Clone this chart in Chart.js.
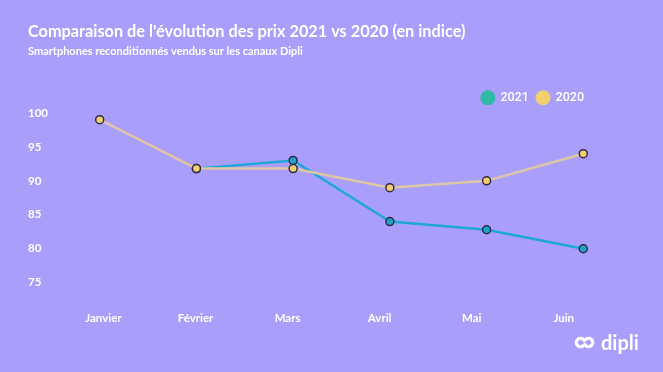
<!DOCTYPE html>
<html>
<head>
<meta charset="utf-8">
<script src="https://cdn.jsdelivr.net/npm/chart.js@4/dist/chart.umd.min.js"></script>
<style>
  html, body { margin: 0; padding: 0; background: #A99FFB; }
  #wrap { width: 663px; height: 372px; position: relative; }
</style>
</head>
<body>
<div id="wrap"><canvas id="c"></canvas></div>
<script>
// ---- data ----
const months = ["Janvier", "Février", "Mars", "Avril", "Mai", "Juin"];
const values2021 = [null, 91.8, 93, 84, 82.8, 80];
const values2020 = [99, 91.8, 91.8, 89, 90, 94];
const yTicks = [75, 80, 85, 90, 95, 100];
const seriesNames = ["2021", "2020"];

// label tick positions (in month-index units) where each month name sits
const labelPos = months.map((m, i) => 0.039 + 0.9518 * i);

const BG = "#A99FFB";
const C21 = "#1EA7D6", C21pt = "#1FA2C8", C21leg = "#2DBBA6";
const C20 = "#DCC6A6", C20pt = "#F3D06B", C20leg = "#F3CF6C";
const EDGE = "#2C2A48";

Chart.defaults.font.family = "Lato, 'Open Sans', sans-serif";
Chart.defaults.color = "#FFFFFF";

const bgPlugin = {
  id: "bg",
  beforeDraw(chart) {
    const ctx = chart.ctx;
    ctx.save();
    ctx.fillStyle = BG;
    ctx.fillRect(0, 0, chart.width, chart.height);
    ctx.restore();
  }
};

const logoPlugin = {
  id: "logo",
  afterDraw(chart) {
    const ctx = chart.ctx;
    ctx.save();
    ctx.strokeStyle = "#FFFFFF";
    ctx.lineWidth = 3.2;
    ctx.lineCap = "round";
    ctx.beginPath();
    ctx.arc(580.5, 342.5, 4.2, 0.3 * Math.PI, 1.85 * Math.PI);
    ctx.stroke();
    ctx.beginPath();
    ctx.arc(588.5, 342.5, 4.2, 1.3 * Math.PI, 0.85 * Math.PI);
    ctx.stroke();
    ctx.fillStyle = "#FFFFFF";
    ctx.font = "bold 20px Lato, sans-serif";
    ctx.textBaseline = "alphabetic";
    ctx.textAlign = "left";
    ctx.fillText("dipli", 601, 349.5);
    ctx.restore();
  }
};

const toXY = arr => arr.map((v, i) => ({ x: i, y: v }));

new Chart(document.getElementById("c"), {
  type: "line",
  data: {
    datasets: [
      {
        label: seriesNames[0],
        data: toXY(values2021),
        borderColor: C21,
        backgroundColor: C21pt,
        pointBackgroundColor: C21pt,
        pointBorderColor: EDGE,
        pointBorderWidth: 1.5,
        pointRadius: 4,
        borderWidth: 2.5,
        tension: 0,
        order: 1,
        legendColor: C21leg
      },
      {
        label: seriesNames[1],
        data: toXY(values2020),
        borderColor: C20,
        backgroundColor: C20pt,
        pointBackgroundColor: C20pt,
        pointBorderColor: EDGE,
        pointBorderWidth: 1.5,
        pointRadius: 4,
        borderWidth: 2.5,
        tension: 0,
        order: 0,
        legendColor: C20leg
      }
    ]
  },
  options: {
    responsive: true,
    maintainAspectRatio: false,
    animation: false,
    layout: { padding: { left: 28, right: 71, top: 0, bottom: 0 } },
    plugins: {
      tooltip: { enabled: false },
      title: {
        display: true,
        text: "Comparaison de l'évolution des prix 2021 vs 2020 (en indice)",
        align: "start",
        color: "#FFFFFF",
        font: { size: 16.3, weight: "bold", lineHeight: 1.2 },
        padding: { top: 21.5, bottom: 4 }
      },
      subtitle: {
        display: true,
        text: "Smartphones reconditionnés vendus sur les canaux Dipli",
        align: "start",
        color: "#FFFFFF",
        font: { size: 11, weight: "bold", lineHeight: 1.2 },
        padding: { top: 0, bottom: 25.2 }
      },
      legend: {
        display: true,
        position: "top",
        align: "end",
        labels: {
          usePointStyle: true,
          pointStyle: "circle",
          boxWidth: 14,
          boxHeight: 10.6,
          padding: 8,
          color: "#FFFFFF",
          font: { family: "Roboto, sans-serif", size: 12.5, weight: "500" },
          generateLabels(chart) {
            return chart.data.datasets.map((ds, i) => ({
              text: ds.label,
              fillStyle: ds.legendColor,
              strokeStyle: ds.legendColor,
              lineWidth: 0,
              pointStyle: "circle",
              fontColor: "#FFFFFF",
              hidden: !chart.isDatasetVisible(i),
              datasetIndex: i
            }));
          }
        }
      }
    },
    scales: {
      x: {
        type: "linear",
        min: (78 - 99.7) / 96.72,
        max: (592 - 99.7) / 96.72,
        grid: { display: false, drawTicks: false },
        border: { display: false },
        afterFit(scale) { scale.height = 89.3; },
        afterBuildTicks(scale) {
          scale.ticks = labelPos.map(v => ({ value: v }));
        },
        ticks: {
          autoSkip: false,
          maxRotation: 0,
          padding: 29,
          color: "#FFFFFF",
          font: { size: 11.5, weight: "bold" },
          callback(value) {
            const i = labelPos.findIndex(p => Math.abs(p - value) < 1e-6);
            return i >= 0 ? months[i] : "";
          }
        }
      },
      y: {
        type: "linear",
        min: 75,
        max: 99.85,
        grid: { display: false, drawTicks: false },
        border: { display: false },
        afterFit(scale) { scale.width = 50; },
        afterBuildTicks(scale) {
          scale.ticks = yTicks.map(v => ({ value: v }));
        },
        ticks: {
          crossAlign: "far",
          padding: 0,
          color: "#FFFFFF",
          font: { size: 11.5, weight: "bold" }
        }
      }
    }
  },
  plugins: [bgPlugin, logoPlugin]
});
</script>
</body>
</html>
